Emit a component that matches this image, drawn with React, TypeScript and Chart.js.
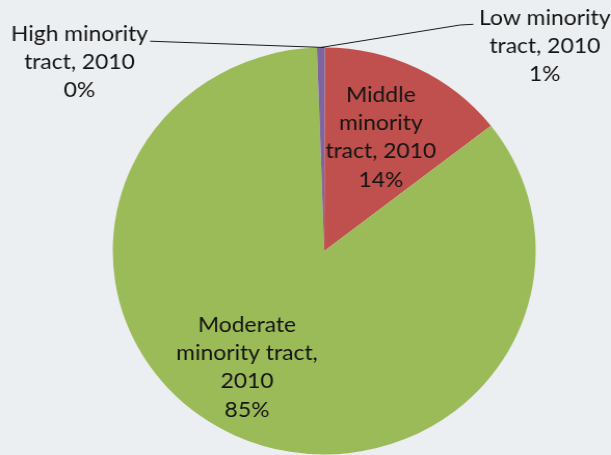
import React, { useEffect, useRef } from "react";
import { Chart, registerables } from "chart.js";

Chart.register(...registerables);

const categories = [
  "High minority tract, 2010",
  "Middle minority tract, 2010",
  "Moderate minority tract, 2010",
  "Low minority tract, 2010",
];
const values = [0.05, 14.4, 85.0, 0.55];
const colors = ["#4F81BD", "#C0504D", "#9BBB59", "#8064A2"];
const labelLines = [
  ["High minority", "tract, 2010"],
  ["Middle", "minority", "tract, 2010"],
  ["Moderate", "minority tract,", "2010"],
  ["Low minority", "tract, 2010"],
];

const CANVAS_W = 588;
const CANVAS_H = 455;
const STRETCH = 611 / 588;
const FONT = "22px Lato, 'Noto Sans', sans-serif";
const LINE_H = 28.2;
// label anchor (canvas coords): centre x and first-line middle y
const labelPos = [
  { x: 76.5, y: 33.5 },
  { x: 366.5, y: 95 },
  { x: 237.7, y: 325 },
  { x: 524.3, y: 17.5 },
];
// leader lines (outside labels): start points toward the label
const leaders: Record<number, { x: number; y: number }[]> = {
  0: [{ x: 144.4, y: 41.2 }],
  3: [
    { x: 455.5, y: 24.3 },
    { x: 442.7, y: 25 },
  ],
};

const labelPlugin = {
  id: "pieLabels",
  afterDatasetsDraw(chart: any) {
    const ctx = chart.ctx;
    const meta = chart.getDatasetMeta(0);
    const total = values.reduce((a, b) => a + b, 0);
    ctx.save();
    ctx.strokeStyle = "#1a1a1a";
    ctx.lineWidth = 1;
    meta.data.forEach((arc: any, i: number) => {
      const lead = leaders[i];
      if (lead) {
        const mid = (arc.startAngle + arc.endAngle) / 2;
        const ex = arc.x + Math.cos(mid) * arc.outerRadius;
        const ey = arc.y + Math.sin(mid) * arc.outerRadius;
        ctx.beginPath();
        ctx.moveTo(lead[0].x, lead[0].y);
        for (let k = 1; k < lead.length; k++) ctx.lineTo(lead[k].x, lead[k].y);
        ctx.lineTo(ex, ey);
        ctx.stroke();
      }
    });
    ctx.fillStyle = "#141414";
    ctx.font = FONT;
    ctx.textAlign = "center";
    ctx.textBaseline = "middle";
    labelLines.forEach((lines, i) => {
      const pct = Math.round((values[i] / total) * 100) + "%";
      const all = [...lines, pct];
      all.forEach((t, k) => {
        ctx.fillText(t, labelPos[i].x, labelPos[i].y + k * LINE_H);
      });
    });
    ctx.restore();
  },
};

export default function App() {
  const ref = useRef<HTMLCanvasElement>(null);
  useEffect(() => {
    if (!ref.current) return;
    const chart = new Chart(ref.current, {
      type: "pie",
      data: {
        labels: categories,
        datasets: [
          {
            data: values,
            backgroundColor: colors,
            borderWidth: 0,
            radius: 203.5,
          },
        ],
      },
      options: {
        responsive: false,
        animation: false,
        events: [],
        layout: { padding: { left: 36, top: 47, right: 0, bottom: 0 } },
        plugins: {
          legend: { display: false },
          tooltip: { enabled: false },
        },
      },
      plugins: [labelPlugin],
    });
    return () => chart.destroy();
  }, []);
  return (
    <div
      style={{
        position: "fixed",
        left: 0,
        top: 0,
        width: 611,
        height: 455,
        overflow: "hidden",
        background: "#eceff1",
      }}
    >
      <div
        style={{
          width: CANVAS_W,
          height: CANVAS_H,
          transform: `scaleX(${STRETCH})`,
          transformOrigin: "0 0",
        }}
      >
        <canvas ref={ref} width={CANVAS_W} height={CANVAS_H} />
      </div>
    </div>
  );
}
